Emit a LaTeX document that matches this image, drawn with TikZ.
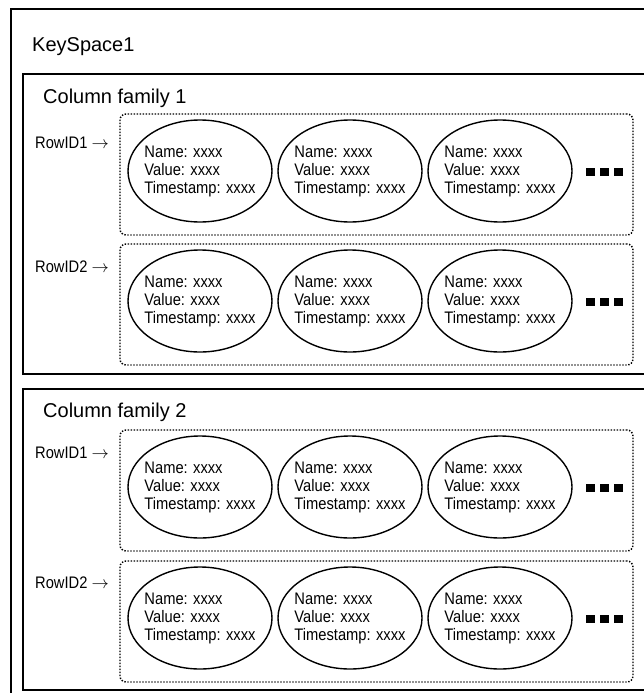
\documentclass[tikz,border=0pt]{standalone}
\usepackage{fontspec}
\setmainfont{Liberation Sans}
\newfontfamily\narrowfont[FakeStretch=0.88]{Liberation Sans}
\usetikzlibrary{shapes.geometric}

\begin{document}
\begin{tikzpicture}[x=1pt, y=-1pt,
    frame/.style={draw, line width=1.6pt, inner sep=0pt, outer sep=0pt, anchor=north west},
    rowbox/.style={draw, dash pattern=on 1.4pt off 1.6pt, line width=1.4pt, rounded corners=6pt,
      inner sep=0pt, outer sep=0pt, anchor=north west, minimum width=513pt, minimum height=121pt},
    cell/.style={ellipse, draw, line width=1.4pt, inner xsep=-7pt, inner ysep=0pt,
      minimum width=144pt, minimum height=102pt, align=left,
      font=\narrowfont\fontsize{16.7}{18}\selectfont},
    dot/.style={fill=black, inner sep=0pt, minimum width=9pt, minimum height=8pt},
    title/.style={anchor=base west, inner sep=0pt, font=\fontsize{20}{24}\selectfont},
    rowlabel/.style={anchor=base west, inner sep=0pt, font=\narrowfont\fontsize{16.7}{18}\selectfont}]
    \useasboundingbox (0,0) rectangle (643,693);

    % Key space and column families
    \node[frame, minimum width=650pt, minimum height=700pt] (ks) at (11,9) {};
    \node[title] (kst) at (32,52) {KeySpace1};
    \node[frame, minimum width=630pt, minimum height=300pt] (cf1) at (23,74) {};
    \node[title] (cf1t) at (43,103) {Column family 1};
    \node[frame, minimum width=630pt, minimum height=301pt] (cf2) at (23,389) {};
    \node[title] (cf2t) at (43,417) {Column family 2};

    % Rows with their columns
    \foreach \r/\top/\lab/\base in {a/114/RowID1/148, b/244/RowID2/272, c/430/RowID1/458, d/561/RowID2/588} {
      \node[rowbox] (row\r) at (120,\top) {};
      \node[rowlabel] (lab\r) at (35,\base) {\lab\ $\rightarrow$};
      \foreach \c/\x in {1/200,2/350,3/500}
        \node[cell] (col\r\c) at (\x,\top+57) {Name: xxxx\\Value: xxxx\\Timestamp: xxxx};
      \foreach \d/\x in {1/590,2/604,3/618}
        \node[dot] (dot\r\d) at (\x,\top+58) {};
    }
  \end{tikzpicture}
\end{document}
